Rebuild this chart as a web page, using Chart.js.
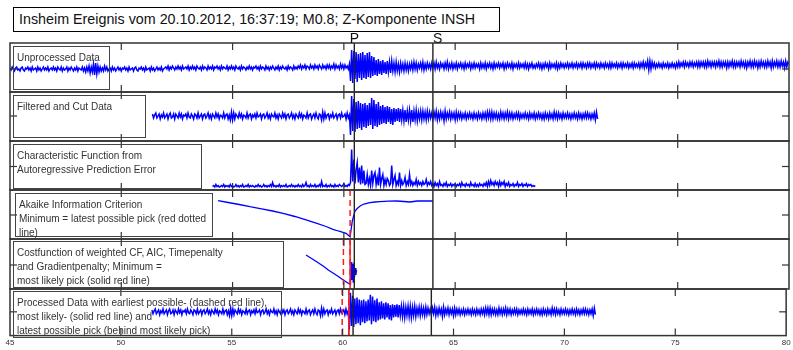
<!DOCTYPE html>
<html>
<head>
<meta charset="utf-8">
<script src="https://cdn.jsdelivr.net/npm/chart.js@4.4.0/dist/chart.umd.min.js"></script>
<style>
  body { margin: 0; background: #fff; width: 793px; height: 350px; position: relative; overflow: hidden;
         font-family: "Liberation Sans", Arial, sans-serif; }
  canvas { position: absolute; left: 0; }
  .title { position: absolute; left: 13px; top: 7px; width: 487px; height: 25px; box-sizing: border-box;
           border: 1px solid #000; font-size: 14.3px; line-height: 23px; padding-left: 5px; color: #111; white-space: nowrap; }
  .box { position: absolute; box-sizing: border-box; border: 1.5px solid #444; color: #333; font-size: 10px; z-index: 5; }
  .box span { position: absolute; white-space: nowrap; line-height: 12px; }
</style>
</head>
<body>
<div class="title">Insheim Ereignis vom 20.10.2012, 16:37:19; M0.8; Z-Komponente INSH</div>
<div id="wrap"></div>
<script>
// ---- picks (seconds) ----
const xTickValues = [45, 50, 55, 60, 65, 70, 75, 80];
const pPick = 60.47;
const sPick = 64.0;
const earliestPick = 59.98;
const likelyPick = 60.28;
const latestPick = 60.28;

// ---- unprocessed trace, 45.00 s .. 80.00 s every 0.05 s (one row per second) ----
const rawStart = 45.0, rawDt = 0.05;
const rawTrace = [
  1,-1,2,0,-2,1,2,-1,0,-2,1,2,-1,-2,1,0,2,-1,1,-2,
  2,-1,0,1,-2,2,-1,1,-2,0,2,-1,1,-1,2,-2,0,1,-1,2,
  -1,1,-2,2,0,-1,2,-2,1,-1,0,2,-2,1,-1,2,0,-2,1,-1,
  2,-2,1,0,-1,2,-2,1,-3,2,-2,3,-4,2,-3,5,-6,6,-5,3,
  -3,2,-2,1,-2,3,-1,2,-2,0,1,-2,2,-1,1,-2,0,2,-1,1,
  -2,1,0,2,-1,1,-2,2,-1,0,1,-2,1,2,-1,-2,1,0,2,-1,
  1,-2,2,-1,0,1,-2,2,-1,1,-2,0,2,-1,1,-1,2,-2,0,1,
  2,0,3,-1,2,0,3,1,-1,2,0,3,0,2,-1,3,0,1,2,0,
  3,-1,2,0,3,0,2,-1,3,1,0,2,-1,3,0,2,1,-1,3,0,
  2,0,3,-1,2,1,3,0,2,-1,3,0,2,1,0,3,-1,2,0,3,
  0,2,-1,3,1,0,2,-1,3,0,2,1,-1,2,0,3,0,2,-1,2,
  1,3,0,2,-1,3,0,2,1,-1,3,0,2,-1,2,0,3,1,-1,2,
  0,3,-1,2,0,3,1,0,2,-1,3,0,2,1,-1,3,0,2,0,3,
  1,4,0,3,1,4,0,3,2,0,4,1,3,0,4,1,3,0,4,2,
  0,4,1,3,0,4,1,4,0,3,1,5,0,4,1,3,0,5,1,4,
  0,4,1,3,0,5,-12,19,-14,18,-10,17,-13,15,-9,16,-11,17,-9,14,
  -10,16,-8,17,-9,13,-7,12,-6,9,-7,10,-5,8,-6,9,-4,7,-5,8,
  -3,7,-4,8,-2,6,-3,7,-2,5,-3,6,-1,5,-2,6,-1,5,-2,5,
  0,6,-1,7,0,6,-1,5,1,6,0,7,-1,5,0,6,1,5,0,6,
  1,6,0,7,1,5,0,6,2,5,0,6,1,7,0,5,1,6,0,5,
  1,6,0,5,2,6,1,5,0,6,1,5,2,6,0,5,1,6,1,5,
  2,5,0,6,1,5,1,6,0,5,2,6,1,5,0,6,1,5,2,6,
  1,5,2,6,0,5,1,6,2,5,1,6,0,5,2,5,1,6,1,5,
  2,5,1,6,1,5,0,5,2,6,1,4,1,5,2,6,1,5,0,5,
  1,6,2,5,0,6,1,5,2,5,1,6,0,5,1,6,2,5,1,5,
  2,6,1,5,2,6,1,5,2,6,1,5,2,6,1,6,2,5,1,6,
  2,6,1,5,2,6,1,6,2,5,1,6,2,5,1,6,2,5,1,6,
  1,6,2,5,2,6,1,5,2,6,1,6,2,5,2,6,1,5,2,6,
  1,6,2,5,2,6,1,6,2,7,1,6,2,8,-1,8,0,7,2,6,
  1,5,2,6,2,5,1,6,2,5,2,6,1,5,2,6,2,5,1,6,
  2,7,2,6,3,7,2,7,3,6,2,7,3,7,2,6,3,7,2,7,
  2,7,3,7,2,7,2,8,3,7,2,7,3,7,2,7,3,8,2,7,
  2,7,3,7,1,7,2,7,3,8,2,7,2,7,3,7,2,8,3,7,
  2,7,1,7,3,8,2,7,2,8,3,7,1,7,2,8,3,7,2,7,
  2,8,3,7,1,8,2,7,3,8,2,7,2,8,3,7,1,8,2,7,
  5
];

// ---- filtered and cut trace (also the processed trace), 51.40 s .. 71.40 s ----
const filtStart = 51.4, filtDt = 0.05;
const filtTrace = [
  2,-2,1,3,-2,0,2,-3,1,-1,3,-2,
  0,2,-3,1,3,-2,-1,2,-3,2,0,-2,3,-1,2,-3,1,0,2,-2,
  3,-1,-2,2,0,-3,2,1,-2,3,-2,0,2,-3,1,2,-2,0,3,-2,
  1,-3,2,0,-2,3,-1,2,-3,1,0,-2,3,-2,1,2,-3,1,-4,4,
  -4,3,-3,2,0,-2,3,-1,2,-3,1,0,-2,3,-2,1,2,-3,1,-1,
  2,-2,3,-1,0,2,-3,1,2,-2,0,3,-2,1,-3,2,0,-1,3,-2,
  1,-3,2,0,-2,3,-1,2,-3,1,2,-2,0,3,-2,1,-3,2,0,-2,
  3,-1,2,-3,1,0,-2,3,-2,1,2,-3,0,2,-2,3,-1,-3,2,1,
  -4,4,-3,3,-2,1,2,-3,1,-1,3,-2,0,2,-3,1,2,-2,3,-1,
  0,2,-3,3,-2,1,-19,20,-15,17,-16,14,-13,15,-12,13,-14,12,-11,13,
  -12,11,-10,13,-9,18,-13,16,-10,12,-11,14,-9,10,-8,11,-7,9,-8,10,
  -6,9,-8,7,-9,8,-6,7,-5,8,-6,7,-4,6,-5,6,-6,5,-4,6,
  -5,6,-6,5,-4,6,-5,4,-3,5,-4,5,-3,4,-4,5,-3,4,-2,3,
  -3,4,-2,5,-4,3,-3,4,-2,3,-5,5,-3,3,-2,4,-3,3,-2,3,
  -4,4,-3,3,-2,3,-3,2,-2,3,-3,2,-2,3,-2,2,-3,3,-2,2,
  -3,3,-2,2,-3,3,-2,3,-3,4,-2,4,-3,4,-3,3,-2,3,-3,2,
  -3,4,-2,3,-3,3,-2,4,-3,3,-2,3,-3,2,-2,3,-2,3,-3,2,
  -2,2,-2,3,-2,2,-3,3,-2,2,-2,3,-3,2,-2,3,-2,2,-3,2,
  -3,3,-2,2,-3,3,-2,2,-3,4,-2,3,-3,3,-2,2,-3,3,-2,2,
  -2,3,-2,2,-3,2,-2,3,-2,2,-3,3,-2,2,-3,2,-2,3,-2,3,
  -2,2,-3,2,-2,3,-4,4,-3
];

// ---- characteristic function, 54.10 s .. 68.60 s ----
const cfStart = 54.1, cfDt = 0.05;
const cfTrace = [
  1,2,0.5,3,1,2,0.5,1,2,1,3,0.5,2,1,2,0.5,3,1,
  2,0.5,1,3,1,2,0.5,2,1,3,0.5,1,2,1,3,0.5,2,1,2,1,
  0.5,2,1,3,1,2,0.5,1,3,1,2,0.5,2,1,3,1,5,1,2,0.5,
  2,1,3,0.5,2,1,2,1,3,0.5,1,2,1,3,1,2,0.5,2,1,3,
  1,2,0.5,3,1,2,5,1,2,0.5,3,1,2,1,3,0.5,2,1,3,1,
  6,1,2,1,3,0.5,2,1,3,1,2,0.5,3,1,2,1,3,2,1,2,
  4,1,2,1,3,2,5,38,6,28,4,18,25,5,20,3,22,4,17,3,
  4,13,3,9,2,17,4,12,15,3,10,2,20,3,9,13,2,8,3,9,
  7,2,4,22,3,8,12,2,6,3,15,2,7,3,5,10,2,6,3,13,
  3,6,2,5,3,8,2,6,3,5,2,6,3,4,8,2,5,3,6,2,
  4,1,5,2,4,1,6,2,3,1,4,2,5,1,3,2,4,1,3,2,
  4,1,3,2,4,1,5,2,3,1,4,2,3,1,5,2,3,1,4,1,
  3,1,4,2,3,1,4,2,5,1,6,2,7,3,5,2,6,3,5,1,
  6,2,5,3,6,1,4,2,5,1,3,2,4,1,3,2,5,1,3,2,
  4,1,3,2,4,1,3,2,3,1,2,1,2
];

// ---- Akaike information criterion ----
const aicTime  = [54.35, 54.8, 55.3, 55.78, 56.3, 56.8, 57.27, 57.8, 58.3, 58.79, 59.2, 59.51, 59.75, 59.96,
                  60.1, 60.19, 60.28, 60.33, 60.38, 60.44, 60.5, 60.6, 60.73, 60.9, 61.17, 61.4, 61.62,
                  62.0, 62.37, 62.7, 62.97, 63.3, 63.6, 63.87, 64.0];
const aicValue = [14.3, 12.5, 10.5, 8.3, 6.2, 4, 1.7, -1.5, -4.8, -8.3, -11.5, -14.3, -16, -17.3,
                  -18.3, -20, -21.7, -14, -6, -1, 4, 6.5, 9, 11, 12.3, 13, 13.3,
                  13.8, 14, 13.5, 13, 14, 14.2, 14, 14];

// ---- cost function ----
const costTime  = [58.3, 58.55, 58.78, 59.1, 59.3, 59.53, 59.75, 59.97, 60.15, 60.28,
                   60.3, 60.33, 60.36, 60.39, 60.42, 60.45, 60.48, 60.51, 60.54, 60.57];
const costValue = [10, 6.5, 3.3, -1.5, -5, -8.3, -11.5, -15, -17.5, -19.3,
                   -18, 3, -15, 1, -17, 2, -12, -3, -10, -5];

function sampled(start, dt, values) {
  return values.map((v, i) => ({ x: +(start + i * dt).toFixed(2), y: v }));
}
function paired(times, values) {
  return times.map((t, i) => ({ x: t, y: values[i] }));
}

const redEarly = { t: earliestPick, dash: true };
const redLate = { t: latestPick, dash: true };
const redLikely = { t: likelyPick, dash: false };

const panels = [
  { top: 43,  bottom: 92,  yMin: -23,  yMax: 26,   yTick: 0,  data: sampled(rawStart, rawDt, rawTrace), red: [], labels: true, lw: 1.5 },
  { top: 92,  bottom: 141, yMin: -25,  yMax: 24,   yTick: 0,  data: sampled(filtStart, filtDt, filtTrace), red: [], lw: 1.5 },
  { top: 141, bottom: 190, yMin: -2.5, yMax: 46.5, yTick: 21, data: sampled(cfStart, cfDt, cfTrace), red: [], lw: 1.5 },
  { top: 190, bottom: 239, yMin: -24,  yMax: 25,   yTick: 0,  data: paired(aicTime, aicValue), red: [redLate], lw: 1.3 },
  { top: 239, bottom: 289, yMin: -24,  yMax: 26,   yTick: 0,  data: paired(costTime, costValue), red: [redEarly, redLate, redLikely], lw: 1.3 },
  { top: 289, bottom: 338, yMin: -25,  yMax: 24,   yTick: 0,  data: sampled(filtStart, filtDt, filtTrace), red: [redEarly, redLate, redLikely], xAxis: true, lw: 1.5 },
];

const boxes = [
  { l: 13, t: 46,  w: 97,  h: 44, lines: ['Unprocessed Data'] },
  { l: 13, t: 95,  w: 133, h: 43, lines: ['Filtered and Cut Data'] },
  { l: 13, t: 144, w: 189, h: 45, lines: ['Characteristic Function from', 'Autoregressive Prediction Error'] },
  { l: 15, t: 193, w: 198, h: 44, lines: ['Akaike Information Criterion', 'Minimum = latest possible pick (red dotted', 'line)'] },
  { l: 13, t: 241, w: 271, h: 47, lines: ['Costfunction of weighted CF, AIC, Timepenalty', 'and Gradientpenalty; Minimum =', 'most likely pick (solid red line)'] },
  { l: 13, t: 291, w: 269, h: 47, lines: ['Processed Data with earliest possible- (dashed red line),', 'most likely- (solid red line) and', 'latest possible pick (behind most likely pick)'] },
];

const framePlugin = {
  id: 'frame',
  afterDatasetsDraw(chart, args, opts) {
    const { ctx, chartArea: a, scales: { x, y } } = chart;
    const seg = (x1, y1, x2, y2) => { ctx.beginPath(); ctx.moveTo(x1, y1); ctx.lineTo(x2, y2); ctx.stroke(); };
    ctx.save();
    // red picks
    ctx.strokeStyle = '#ff1a1a';
    ctx.lineWidth = 1.5;
    opts.red.forEach(r => {
      const px = x.getPixelForValue(r.t);
      ctx.setLineDash(r.dash ? [6, 4] : []);
      seg(px, a.top, px, a.bottom);
    });
    ctx.setLineDash([]);
    // P and S
    ctx.strokeStyle = '#222';
    ctx.lineWidth = 1.4;
    [pPick, sPick].forEach(t => {
      const px = x.getPixelForValue(t);
      seg(px, a.top, px, a.bottom);
    });
    // axes box
    ctx.strokeStyle = '#333';
    ctx.lineWidth = 1.5;
    ctx.strokeRect(a.left, a.top, a.right - a.left, a.bottom - a.top);
    // inward ticks
    ctx.lineWidth = 1.2;
    xTickValues.slice(1, -1).forEach(v => {
      const px = x.getPixelForValue(v);
      seg(px, a.top, px, a.top + 7);
      seg(px, a.bottom - 7, px, a.bottom);
    });
    const py = y.getPixelForValue(opts.yTick);
    seg(a.left, py, a.left + 7, py);
    seg(a.right - 7, py, a.right, py);
    // pick labels
    if (opts.labels) {
      ctx.fillStyle = '#111';
      ctx.font = '14px "Liberation Sans", Arial, sans-serif';
      ctx.textBaseline = 'alphabetic';
      ctx.textAlign = 'center';
      ctx.fillText('P', x.getPixelForValue(pPick), a.top);
      ctx.textAlign = 'left';
      ctx.fillText('S', x.getPixelForValue(sPick), a.top);
    }
    ctx.restore();
  }
};

const wrap = document.getElementById('wrap');
panels.forEach(p => {
  const padTop = p.labels ? 15 : 2;
  const padBottom = p.xAxis ? 0 : 2;
  const canvasTop = p.top - padTop;
  const height = p.xAxis ? 350 - canvasTop : (p.bottom - p.top) + padTop + padBottom;
  const c = document.createElement('canvas');
  c.width = 793; c.height = height;
  c.style.top = canvasTop + 'px';
  c.style.width = '793px'; c.style.height = height + 'px';
  wrap.appendChild(c);

  new Chart(c, {
    type: 'line',
    data: {
      datasets: [{
        data: p.data,
        borderColor: '#0000ff',
        borderWidth: p.lw,
        pointRadius: 0,
        tension: 0,
        fill: false,
      }],
    },
    options: {
      responsive: false,
      animation: false,
      events: [],
      layout: { padding: { left: 10, right: 4, top: padTop, bottom: padBottom } },
      plugins: {
        legend: { display: false },
        tooltip: { enabled: false },
        frame: { red: p.red, yTick: p.yTick, labels: !!p.labels },
      },
      scales: {
        x: {
          type: 'linear',
          min: 45,
          max: 80,
          display: !!p.xAxis,
          grid: { display: false, drawTicks: false },
          border: { display: false },
          ticks: {
            stepSize: 5,
            color: '#333',
            padding: 2.4,
            maxRotation: 0,
            font: { family: '"Liberation Sans", Arial, sans-serif', size: 8 },
          },
        },
        y: { type: 'linear', min: p.yMin, max: p.yMax, display: false },
      },
    },
    plugins: [framePlugin],
  });
});

boxes.forEach(b => {
  const d = document.createElement('div');
  d.className = 'box';
  d.style.left = b.l + 'px'; d.style.top = b.t + 'px';
  d.style.width = b.w + 'px'; d.style.height = b.h + 'px';
  b.lines.forEach((txt, i) => {
    const s = document.createElement('span');
    s.textContent = txt;
    s.style.left = '3px';
    s.style.top = (5 + i * 14.2) + 'px';
    d.appendChild(s);
  });
  document.body.appendChild(d);
});
</script>
</body>
</html>
